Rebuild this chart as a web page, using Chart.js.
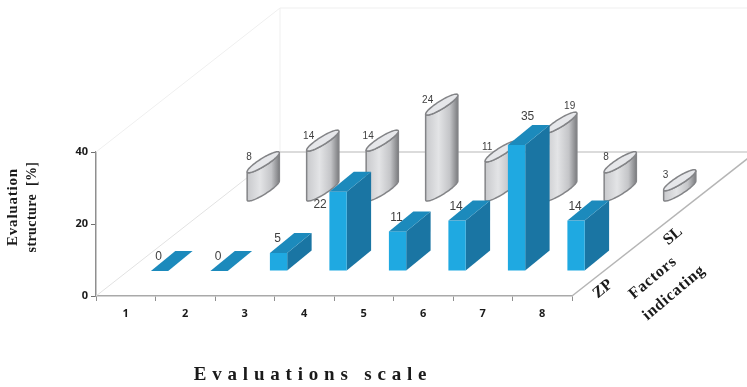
<!DOCTYPE html>
<html>
<head>
<meta charset="utf-8">
<title>Evaluation structure</title>
<script src="https://cdn.jsdelivr.net/npm/chart.js@4"></script>
<style>
    html, body { margin: 0; padding: 0; background: #fff; }
    canvas { display: block; }
</style>
</head>
<body>
<canvas id="evaluationChart" width="747" height="387"></canvas>
<script>
const categories = ['1', '2', '3', '4', '5', '6', '7', '8'];
const zpValues = [0, 0, 5, 22, 11, 14, 35, 14];
const slValues = [8, 14, 14, 24, 11, 19, 8, 3];
const yTicks = [0, 20, 40];

// oblique projection of the floor: how far one full depth moves a point
const floorDepth = { dx: 184, dy: 144 };
// where each row stands on the floor, measured from the front edge
const zpRow = { dx: 33.8, dy: 25 };
const slRow = { dx: 137.5, dy: 105 };
// depth of a single block / cylinder
const blockDepth = { dx: 24.4, dy: 20 };
const cylinderAxis = { halfWidth: 7, dx: 14.5, dy: 10.5 };

// labels that do not sit in the default spot above their mark
const zpLabelShift = { 3: [-18, 13], 6: [11, -28] };
const slLabelShift = { 5: [25, -26] };

class Block3dElement extends Chart.BarElement {
    static id = 'block3d';

    draw(ctx) {
        const half = this.width / 2;
        const left = this.x - half + zpRow.dx;
        const right = this.x + half + zpRow.dx;
        const top = this.y - zpRow.dy;
        const base = this.base - zpRow.dy;
        const { dx, dy } = blockDepth;

        ctx.save();
        if (base > top) {
            ctx.fillStyle = '#1a75a3';
            ctx.beginPath();
            ctx.moveTo(right, top);
            ctx.lineTo(right + dx, top - dy);
            ctx.lineTo(right + dx, base - dy);
            ctx.lineTo(right, base);
            ctx.closePath();
            ctx.fill();

            ctx.fillStyle = '#1fa9e1';
            ctx.fillRect(left, top, right - left, base - top);
        }
        ctx.fillStyle = '#1c8abc';
        ctx.beginPath();
        ctx.moveTo(left, top);
        ctx.lineTo(right, top);
        ctx.lineTo(right + dx, top - dy);
        ctx.lineTo(left + dx, top - dy);
        ctx.closePath();
        ctx.fill();
        ctx.restore();
    }
}

class Cylinder3dElement extends Chart.BarElement {
    static id = 'cylinder3d';

    draw(ctx) {
        const cx = this.x + slRow.dx;
        const top = this.y - slRow.dy;
        const base = this.base - slRow.dy;
        const { halfWidth, dx, dy } = cylinderAxis;
        const reach = Math.hypot(halfWidth, dx);
        // angle on the ellipse where its outline turns vertical
        const turn = Math.atan2(dx, halfWidth);
        const point = (t, cy) => [cx + halfWidth * Math.cos(t) + dx * Math.sin(t), cy - dy * Math.sin(t)];

        const shade = ctx.createLinearGradient(cx - reach, 0, cx + reach, 0);
        shade.addColorStop(0, '#c8c9cc');
        shade.addColorStop(0.4, '#e3e4e6');
        shade.addColorStop(0.75, '#c4c5c8');
        shade.addColorStop(1, '#7c7d80');

        ctx.save();
        ctx.lineWidth = 1.5;
        ctx.strokeStyle = '#838487';

        // body: lower rim from the right tip round to the left, then the upper rim back
        ctx.beginPath();
        for (let i = 0; i <= 40; i++) {
            const [px, py] = point(turn - Math.PI * i / 40, base);
            i === 0 ? ctx.moveTo(px, py) : ctx.lineTo(px, py);
        }
        for (let i = 40; i >= 0; i--) {
            const [px, py] = point(turn - Math.PI * i / 40, top);
            ctx.lineTo(px, py);
        }
        ctx.closePath();
        ctx.fillStyle = shade;
        ctx.fill();
        ctx.stroke();

        ctx.beginPath();
        for (let i = 0; i < 80; i++) {
            const [px, py] = point(Math.PI * 2 * i / 80, top);
            i === 0 ? ctx.moveTo(px, py) : ctx.lineTo(px, py);
        }
        ctx.closePath();
        ctx.fillStyle = '#e6e7ea';
        ctx.fill();
        ctx.stroke();
        ctx.restore();
    }
}

class Block3dController extends Chart.BarController {
    static id = 'block3d';
    static defaults = { ...Chart.BarController.defaults, dataElementType: 'block3d' };
}

class Cylinder3dController extends Chart.BarController {
    static id = 'cylinder3d';
    static defaults = { ...Chart.BarController.defaults, dataElementType: 'cylinder3d' };
}

Chart.register(Block3dElement, Cylinder3dElement, Block3dController, Cylinder3dController);

function line(ctx, x1, y1, x2, y2) {
    ctx.beginPath();
    ctx.moveTo(x1, y1);
    ctx.lineTo(x2, y2);
    ctx.stroke();
}

// walls and floor edges behind the marks
const roomPlugin = {
    id: 'room',
    beforeDatasetsDraw(chart) {
        const { ctx, chartArea: a } = chart;
        const backX = a.left + floorDepth.dx;
        const backFloor = a.bottom - floorDepth.dy;
        const backTop = a.top - floorDepth.dy;
        ctx.save();
        ctx.strokeStyle = '#efefef';
        ctx.lineWidth = 1;
        line(ctx, a.left, a.top, backX, backTop);
        line(ctx, backX, backTop, a.right + floorDepth.dx, backTop);
        line(ctx, backX, backTop, backX, backFloor);
        ctx.strokeStyle = '#e2e2e2';
        line(ctx, a.left, a.bottom, backX, backFloor);
        ctx.strokeStyle = '#cfcfcf';
        ctx.lineWidth = 1.5;
        line(ctx, backX, backFloor, a.right + floorDepth.dx, backFloor);
        ctx.strokeStyle = '#b5b5b5';
        line(ctx, a.right, a.bottom, a.right + floorDepth.dx, backFloor);
        ctx.restore();
    }
};

function drawText(ctx, text, x, y, font, angle = 0, spacing = '0px') {
    ctx.save();
    ctx.translate(x, y);
    ctx.rotate(angle);
    ctx.font = font;
    ctx.letterSpacing = spacing;
    ctx.textAlign = 'center';
    ctx.textBaseline = 'middle';
    ctx.fillStyle = '#1a1a1a';
    ctx.fillText(text, 0, 0);
    ctx.restore();
}

// value labels and the axis captions
const captionPlugin = {
    id: 'captions',
    afterDatasetsDraw(chart) {
        const { ctx } = chart;
        const zpBars = chart.getDatasetMeta(0).data;
        const slBars = chart.getDatasetMeta(1).data;
        const reach = Math.hypot(cylinderAxis.halfWidth, cylinderAxis.dx);
        const tipRise = cylinderAxis.dy * cylinderAxis.dx / reach;

        ctx.save();
        ctx.fillStyle = '#404040';
        ctx.textAlign = 'center';
        ctx.textBaseline = 'middle';
        ctx.font = '12px "Liberation Sans"';
        zpBars.forEach((bar, i) => {
            const [sx, sy] = zpLabelShift[i] || [-1, -14];
            ctx.fillText(zpValues[i], bar.x + zpRow.dx + sx, bar.y - zpRow.dy + sy);
        });
        ctx.font = '10px "Liberation Sans"';
        slBars.forEach((bar, i) => {
            const [sx, sy] = slLabelShift[i] || [2, -14];
            ctx.fillText(slValues[i], bar.x + slRow.dx - reach + sx, bar.y - slRow.dy + tipRise + sy);
        });
        ctx.restore();

        drawText(ctx, 'Evaluation', 13, 207, 'bold 15px "Liberation Serif"', -Math.PI / 2, '0.8px');
        drawText(ctx, 'structure  [%]', 32, 207, 'bold 14px "Liberation Serif"', -Math.PI / 2, '0.4px');
        drawText(ctx, 'Evaluations scale', 313, 375, 'bold 19px "Liberation Serif"', 0, '5.8px');

        const slant = -40 * Math.PI / 180;
        const floorFont = 'bold 16px "Liberation Serif"';
        drawText(ctx, 'ZP', 603, 289, floorFont, slant);
        drawText(ctx, 'SL', 673, 236, floorFont, slant);
        drawText(ctx, 'Factors', 653, 278, floorFont, slant, '0.8px');
        drawText(ctx, 'indicating', 674, 293, floorFont, slant, '0.8px');
    }
};

new Chart(document.getElementById('evaluationChart').getContext('2d'), {
    data: {
        labels: categories,
        datasets: [
            { type: 'block3d', label: 'ZP', data: zpValues, barThickness: 17.3, grouped: false, clip: false, order: 1 },
            { type: 'cylinder3d', label: 'SL', data: slValues, barThickness: 17.3, grouped: false, clip: false, order: 2 }
        ]
    },
    options: {
        responsive: false,
        animation: false,
        layout: { padding: { top: 152, right: 175, bottom: 0, left: 0 } },
        plugins: { legend: { display: false }, tooltip: { enabled: false } },
        scales: {
            x: {
                afterFit: scale => { scale.height = 91; },
                border: { color: '#a9a9a9', width: 1.5 },
                grid: { drawOnChartArea: false, color: '#8f8f8f', tickLength: 5 },
                ticks: { color: '#1a1a1a', font: { family: '"Open Sans"', weight: 'bold', size: 11 }, padding: 6, maxRotation: 0 }
            },
            y: {
                min: yTicks[0],
                max: yTicks[yTicks.length - 1],
                afterFit: scale => { scale.width = 96; },
                afterBuildTicks: scale => { scale.ticks = yTicks.map(value => ({ value })); },
                border: { color: '#8f8f8f', width: 1.5 },
                grid: { drawOnChartArea: false, color: '#6f6f6f', tickLength: 5 },
                ticks: { color: '#1a1a1a', font: { family: '"Open Sans"', weight: 'bold', size: 11 }, padding: 3 }
            }
        }
    },
    plugins: [roomPlugin, captionPlugin]
});
</script>
</body>
</html>
